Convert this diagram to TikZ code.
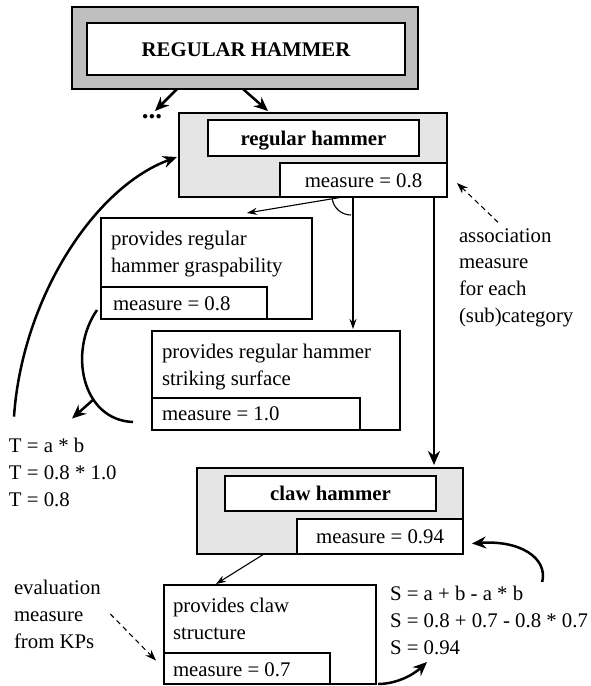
\documentclass[tikz,border=0pt]{standalone}
\usepackage{fontspec}
\setmainfont{Liberation Serif}
\usetikzlibrary{arrows.meta,calc}
\definecolor{framegray}{gray}{0.75}
\definecolor{boxgray}{gray}{0.9}
\begin{document}
\begin{tikzpicture}[x=1pt,y=-1pt,
  font=\fontsize{20.8}{27}\selectfont,
  every node/.style={inner sep=0pt, outer sep=0pt},
  heavybox/.style={draw, line width=2.6pt},
  lightbox/.style={draw, line width=1.3pt, fill=white},
  boxtext/.style={text height=14pt, text depth=0pt},
  txt/.style={anchor=base west},
  thickarrow/.style={line width=2.5pt, -{Stealth[length=14pt,width=12pt]}},
  thinarrow/.style={line width=1.1pt, -{Stealth[length=10pt,width=7pt]}},
  dasharrow/.style={line width=1.1pt, dash pattern=on 5pt off 4pt, -{Stealth[length=11pt,width=8pt]}},
  thickcurve/.style={line width=2.5pt}]
\useasboundingbox (0,0) rectangle (591,686);

% top category
\node[heavybox, fill=framegray, minimum width=346pt, minimum height=82pt] (top) at (245,48) {};
\node[heavybox, fill=white, boxtext, minimum width=318pt, minimum height=52pt, font=\fontsize{20.8}{27}\selectfont\bfseries] (topin) at (246,49) {REGULAR HAMMER};
\node[anchor=base, font=\fontsize{27}{30}\selectfont\bfseries] (dots) at (152,118) {...};

% regular hammer
\node[heavybox, fill=boxgray, minimum width=268pt, minimum height=84pt] (reg) at (313,155) {};
\node[heavybox, fill=white, boxtext, minimum width=211pt, minimum height=36pt, font=\fontsize{20.8}{27}\selectfont\bfseries] (regt) at (313.5,138) {regular hammer};
\node[heavybox, fill=white, boxtext, minimum width=167pt, minimum height=34pt] (regm) at (363.5,180) {measure = 0.8};

% graspability
\node[lightbox, minimum width=211pt, minimum height=101pt] (grasp) at (206.5,268.5) {};
\node[lightbox, minimum width=166pt, minimum height=32pt] (graspm) at (184,303) {};
\node[txt] (g1) at (111,245) {provides regular};
\node[txt] (g2) at (111,272) {hammer graspability};
\node[txt] (g3) at (113,310) {measure = 0.8};

% striking surface
\node[lightbox, minimum width=248pt, minimum height=99pt] (strike) at (276,380.5) {};
\node[lightbox, minimum width=208pt, minimum height=32pt] (strikem) at (256,414) {};
\node[txt] (s1) at (162,358) {provides regular hammer};
\node[txt] (s2) at (162,385) {striking surface};
\node[txt] (s3) at (162,420) {measure = 1.0};

% claw hammer
\node[heavybox, fill=boxgray, minimum width=266pt, minimum height=86pt] (claw) at (330,511) {};
\node[heavybox, fill=white, boxtext, minimum width=211pt, minimum height=35pt, font=\fontsize{20.8}{27}\selectfont\bfseries] (clawt) at (330.5,493.5) {claw hammer};
\node[heavybox, fill=white, boxtext, minimum width=166pt, minimum height=35pt] (clawm) at (380,536.5) {measure = 0.94};

% claw structure
\node[lightbox, minimum width=212pt, minimum height=99pt] (cs) at (270,634.5) {};
\node[lightbox, minimum width=166pt, minimum height=31pt] (csm) at (247,668.5) {};
\node[txt] (c1) at (173,612) {provides claw};
\node[txt] (c2) at (173,639) {structure};
\node[txt] (c3) at (173,676) {measure = 0.7};

% annotations
\node[txt] (a1) at (459,242) {association};
\node[txt] (a2) at (459,268) {measure};
\node[txt] (a3) at (459,295) {for each};
\node[txt] (a4) at (459,322) {(sub)category};

\node[txt] (t1) at (9,452) {T = a * b};
\node[txt] (t2) at (9,479) {T = 0.8 * 1.0};
\node[txt] (t3) at (9,506) {T = 0.8};

\node[txt] (e1) at (14,594) {evaluation};
\node[txt] (e2) at (14,621) {measure};
\node[txt] (e3) at (14,648) {from KPs};

\node[txt] (f1) at (390,600) {S = a + b - a * b};
\node[txt] (f2) at (390,627) {S = 0.8 + 0.7 - 0.8 * 0.7};
\node[txt] (f3) at (390,654) {S = 0.94};

% connectors
\draw[thickarrow] ($(top.south west)+(105,0)$) -- ($(dots.north)+(3,-3)$);
\draw[thickarrow] ($(top.south west)+(171,0)$) -- ($(reg.north west)+(89,-2)$);

\draw[thinarrow] ($(regm.south west)+(63,0)$) -- ($(grasp.north east)+(-65,-5)$);
\draw[thinarrow] ($(regm.south west)+(73,0)$) -- ($(strike.north west)+(201,-2)$);
\draw[line width=1.1pt] ($(regm.south west)+(71,-1)+(171:19)$) arc[start angle=171, end angle=90, radius=19];

\draw[thickarrow] ($(regm.south east)+(-13,0)$) -- ($(claw.north east)+(-29,-3)$);
\draw[dasharrow] ($(a1.north west)+(39,-6)$) -- ($(regm.east)+(10,3)$);

\draw[thickarrow] ($(t1.north west)+(5,-21)$) .. controls (22,300) and (93,188) .. ($(reg.west)+(-2,2)$);
\draw[thickcurve] ($(graspm.south west)+(-4,-9)$) .. controls (68,352) and (82,420) .. coordinate[pos=0.65] (armid) ($(strikem.south west)+(-19,-8)$);
\draw[thickarrow] (armid) -- ($(t1.north west)+(63,-19)$);

\draw[thinarrow] ($(claw.south west)+(67,0)$) -- ($(cs.north west)+(52,-1)$);
\draw[dasharrow] ($(e2.base east)+(27,-7)$) -- ($(csm.west)+(-8,-8)$);
\draw[thickarrow] ($(cs.south east)+(2,0)$) .. controls (395,684) and (412,676) .. ($(f3.base west)+(37,8)$);
\draw[thickarrow] ($(f1.base east)+(19,-18)$) .. controls (548,558) and (520,540) .. ($(clawm.east)+(9,7)$);
\end{tikzpicture}
\end{document}
